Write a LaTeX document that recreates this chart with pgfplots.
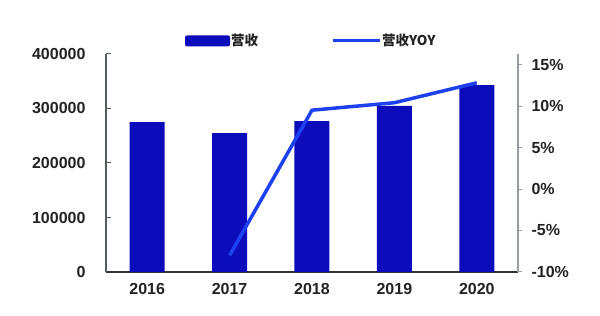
\documentclass[border=0pt]{standalone}
\usepackage{pgfplots}
\pgfplotsset{compat=1.18}
\usepackage{fontspec}
\setmainfont{Liberation Sans}
\newfontfamily\cjk{Noto Sans CJK SC}
\definecolor{barblue}{RGB}{12,12,188}
\definecolor{lineblue}{RGB}{30,65,240}
\definecolor{axisgray}{RGB}{80,95,95}
\definecolor{txt}{RGB}{35,35,35}
\begin{document}
\begin{tikzpicture}
\useasboundingbox[fill=white] (0,0) rectangle (600pt,316pt);
\begin{axis}[
  at={(106pt,44pt)}, anchor=south west, scale only axis,
  width=412pt, height=218pt,
  xmin=-0.5, xmax=4.5, ymin=0, ymax=400000,
  axis y line*=left, axis x line*=bottom,
  axis line style={axisgray, line width=1.2pt},
  x axis line style={black!80, line width=1.5pt},
  xtick={0,1,2,3,4},
  xticklabels={2016,2017,2018,2019,2020},
  major x tick style={draw=none},
  extra x ticks={0.5,1.5,2.5,3.5},
  extra x tick labels={},
  extra x tick style={major tick length=4pt, tick style={black, line width=1pt}},
  ytick={0,100000,200000,300000,400000},
  yticklabels={0,100000,200000,300000,400000},
  scaled y ticks=false,
  tick align=inside,
  major tick length=5pt,
  tick style={axisgray, line width=1pt},
  ticklabel style={font=\bfseries\fontsize{16}{16}\selectfont, text=txt},
  yticklabel style={xshift=-17pt},
  xticklabel style={yshift=-8pt},
  legend columns=2,
  legend style={at={(0.497,1.06)}, anchor=center, draw=none, fill=none,
    font=\cjk\bfseries\fontsize{13.5}{13.5}\selectfont, text=txt,
    nodes={inner xsep=1pt},
    /tikz/every even column/.append style={column sep=72pt}},
]
\addplot[ybar, bar width=35pt, fill=barblue, draw=none,
  legend image code/.code={\fill[barblue, rounded corners=2pt] (0pt,-5.5pt) rectangle (45pt,5.5pt);}]
  coordinates {(0,275000)(1,255000)(2,277000)(3,305000)(4,343000)};
\addlegendentry{营收}
\addlegendimage{legend image code/.code={\draw[lineblue,line width=3pt] (0pt,0pt)--(47pt,0pt);}}
\addlegendentry{营收YOY}
\end{axis}
\begin{axis}[
  at={(106pt,44pt)}, anchor=south west, scale only axis,
  width=412pt, height=218pt,
  xmin=-0.5, xmax=4.5, ymin=-10, ymax=16.27,
  axis y line*=right, axis x line=none,
  axis line style={axisgray!60, line width=1.2pt},
  ytick={-10,-5,0,5,10,15},
  yticklabels={-10\%,-5\%,0\%,5\%,10\%,15\%},
  tick align=outside,
  major tick length=4pt,
  tick style={axisgray!60, line width=1pt},
  ticklabel style={font=\bfseries\fontsize{16}{16}\selectfont, text=txt},
  yticklabel style={xshift=6pt},
]
\addplot[lineblue, line width=3.5pt, line join=round]
  coordinates {(1,-8)(2,9.5)(3,10.4)(4,12.8)};
\end{axis}
\end{tikzpicture}
\end{document}
